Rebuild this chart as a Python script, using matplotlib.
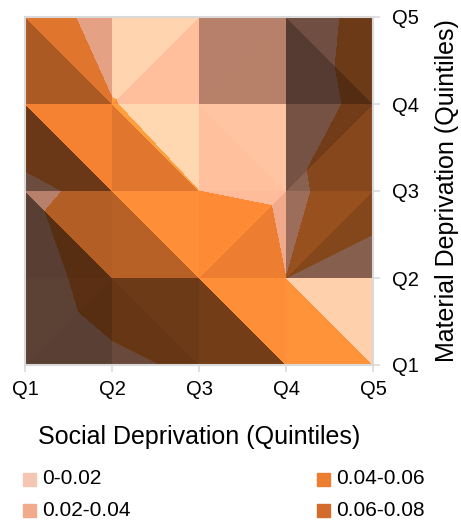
import numpy as np
import matplotlib.pyplot as plt
import matplotlib.tri as mtri
from matplotlib.colors import to_rgb
from matplotlib.patches import Rectangle

plt.rcParams['font.family'] = ['Liberation Sans', 'DejaVu Sans']

quintiles = ['Q1', 'Q2', 'Q3', 'Q4', 'Q5']

# rows: material deprivation Q1..Q5, columns: social deprivation Q1..Q5
rate = np.array([
    [0.024, 0.036, 0.043, 0.047, 0.040],
    [0.030, 0.050, 0.056, 0.040, 0.032],
    [0.037, 0.044, 0.040, 0.0368, 0.048],
    [0.050, 0.041, 0.026, 0.022, 0.050],
    [0.058, 0.027, 0.0201, 0.027, 0.048],
])

levels = [0, 0.02, 0.04, 0.06, 0.08]
band_labels = ['0-0.02', '0.02-0.04', '0.04-0.06', '0.06-0.08']
band_colors = ['#F5C6B4', '#F2AA8C', '#ED7D31', '#D26B2B']

fig = plt.figure(figsize=(4.61, 5.23), dpi=100)
W, H = 461, 523
ax = fig.add_axes([25 / W, 1 - 365 / H, 348 / W, 348 / H])

n = len(quintiles)
gx, gy = np.meshgrid(np.arange(n), np.arange(n))
x = gx.ravel().astype(float)
y = gy.ravel().astype(float)
z = rate.ravel()

def idx(i, j):
    return j * n + i

# split every cell along the diagonal whose corners sum higher (surface chart look)
triangles = []
for j in range(n - 1):
    for i in range(n - 1):
        ll, lr, ul, ur = idx(i, j), idx(i + 1, j), idx(i, j + 1), idx(i + 1, j + 1)
        if z[ul] + z[lr] >= z[ll] + z[ur]:
            triangles += [[ul, ll, lr], [ul, ur, lr]]
        else:
            triangles += [[ll, lr, ur], [ll, ur, ul]]

light = np.array([0.55, 0.65, 1.0])
light = light / np.linalg.norm(light)
flat = light[2]

def facet_shade(t):
    # plane through the 3 corners, height in "bands", run in cells
    A = np.column_stack([x[t], y[t], np.ones(3)])
    p, q, _ = np.linalg.solve(A, z[t])
    nrm = np.array([-p / 0.02, -q / 0.02, 1.0])
    d = nrm @ light / np.linalg.norm(nrm)
    if d > flat:
        s = 0.8 + 0.5 * ((d - flat) / (1 - flat)) ** 2
    else:
        s = 0.8 + 0.67 * (d - flat)
    return np.clip(s, 0.35, 1.3)

def lit(c, s):
    return tuple(np.clip(np.array(to_rgb(c)) * s, 0, 1))

for t in triangles:
    s = facet_shade(t)
    tri = mtri.Triangulation(x[t], y[t], [[0, 1, 2]])
    cols = [lit(c, s) for c in band_colors]
    ax.tricontourf(tri, z[t], levels=levels, colors=cols, antialiased=True)
    ax.tricontourf(tri, z[t], levels=levels, colors=cols, antialiased=False)

ax.set_xlim(0, n - 1)
ax.set_ylim(0, n - 1)
ax.set_xticks(range(n))
ax.set_xticklabels(quintiles)
ax.set_yticks(range(n))
ax.set_yticklabels(quintiles)
ax.yaxis.tick_right()
ax.yaxis.set_label_position('right')
ax.tick_params(direction='out', length=5, width=1.2, color='#D9D9D9',
               labelsize=14.5, labelcolor='black', pad=6)
ax.tick_params(axis='y', pad=9)
for sp in ax.spines.values():
    sp.set_color('#D9D9D9')
    sp.set_linewidth(1.5)

ax.set_xlabel('Social Deprivation (Quintiles)', fontsize=18)
ax.xaxis.set_label_coords(0.5, -0.207)
ax.xaxis.label.set_verticalalignment('center')
ax.set_ylabel('Material Deprivation (Quintiles)', fontsize=18, rotation=90)
ax.yaxis.set_label_coords(1.213, 0.5)
ax.yaxis.label.set_verticalalignment('center')

# legend, two columns
legend_pos = [(23, 479), (23, 510), (317, 479), (317, 510)]
for (px, py), lab, col in zip(legend_pos, band_labels, band_colors):
    fig.patches.append(Rectangle((px / W, 1 - (py + 6.5) / H), 13 / W, 13 / H,
                                 transform=fig.transFigure, color=col))
    fig.text((px + 19) / W, 1 - py / H, lab, fontsize=15, va='center', ha='left')

fig.savefig('out.png', dpi=100)
